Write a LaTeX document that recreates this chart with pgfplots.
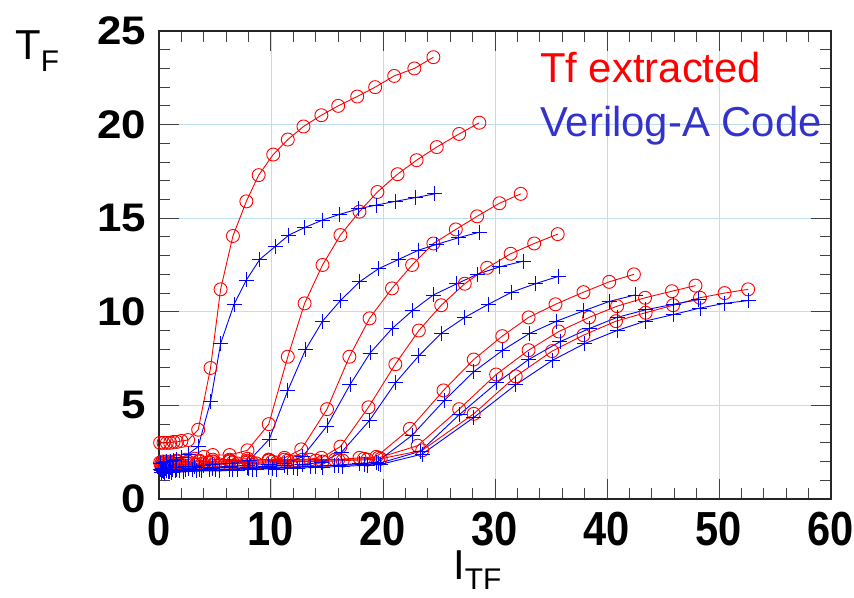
\documentclass[border=0pt]{standalone}
\usepackage{pgfplots}
\pgfplotsset{compat=1.18}
\usepackage{fontspec}
\setmainfont{Liberation Sans}
\definecolor{gridblue}{RGB}{190,222,240}
\definecolor{legblue}{RGB}{51,51,204}
\pgfplotsset{
  redc/.style={draw=red, color=red, line width=0.9bp, mark=o, mark size=6.5bp, mark options={draw=red, fill=none, solid, line width=0.9bp}},
  bluec/.style={draw=blue, color=blue, line width=0.9bp, mark=+, mark size=7.5bp, mark options={draw=blue, solid, line width=0.9bp}},
}
\begin{document}
\begin{tikzpicture}
\path[use as bounding box] (-159bp,-99bp) rectangle (695bp,499bp);
\begin{axis}[
  at={(0,0)}, anchor=south west,
  scale only axis, width=672bp, height=468bp,
  xmin=0, xmax=60, ymin=0, ymax=25,
  xtick={0,10,...,60}, ytick={0,5,...,25},
  minor x tick num=4, minor y tick num=4,
  tick align=inside, major tick length=20bp, minor tick length=11bp,
  tick style={color=black!75, line width=1bp},
  axis line style={line width=1.2bp, black!85},
  grid=major, grid style={color=gridblue, line width=0.8bp},
  xticklabel style={inner sep=0pt, yshift=-13bp, anchor=north, font=\fontsize{48}{48}\selectfont\bfseries},
  yticklabel style={inner sep=0pt, xshift=-13bp, anchor=east, font=\fontsize{40}{40}\selectfont\bfseries},
  xticklabel={\scalebox{0.87}[1]{\pgfmathprintnumber[assume math mode=true]{\tick}}},
  yticklabel={\scalebox{1.1}[1]{\pgfmathprintnumber[assume math mode=true]{\tick}}},
  clip=false,
]
% ---- red: Tf extracted ----
\addplot[redc] coordinates {(0.1,3.0)(0.4,3.0)(0.7,3.0)(1.0,3.0)(1.3,3.05)(1.6,3.05)(2.0,3.1)(2.6,3.15)(3.5,3.7)(4.6,7.0)(5.5,11.2)(6.6,14.05)(7.8,15.9)(8.9,17.3)(10.2,18.4)(11.5,19.2)(12.9,19.9)(14.5,20.5)(16.0,21.0)(17.7,21.5)(19.3,22.0)(21.0,22.6)(22.8,23.0)(24.5,23.6)};
\addplot[redc] coordinates {(0.1,1.95)(0.3,2.0)(0.6,2.0)(1.0,2.0)(1.6,2.05)(2.4,2.1)(3.2,2.15)(4.0,2.25)(4.8,2.35)(6.3,2.35)(7.9,2.6)(9.8,4.0)(11.5,7.6)(13.0,10.45)(14.6,12.5)(16.2,14.1)(17.9,15.35)(19.5,16.4)(21.3,17.35)(23.0,18.1)(24.8,18.8)(26.8,19.5)(28.6,20.1)};
\addplot[redc] coordinates {(0.2,1.9)(0.5,1.95)(0.9,1.95)(1.6,2.0)(2.6,2.0)(3.6,2.05)(4.8,2.1)(6.3,2.1)(7.9,2.15)(9.8,2.1)(11.2,2.2)(12.7,2.65)(15.0,4.8)(17.0,7.6)(18.8,9.65)(20.8,11.25)(22.6,12.5)(24.5,13.65)(26.5,14.4)(28.4,15.1)(30.4,15.8)(32.3,16.3)};
\addplot[redc] coordinates {(0.3,1.85)(0.7,1.9)(1.2,1.9)(2.4,1.95)(3.6,2.0)(4.8,2.0)(6.3,2.05)(7.9,2.05)(9.8,2.1)(11.2,2.1)(12.8,2.1)(14.5,2.2)(16.2,2.8)(18.7,4.9)(21.1,7.2)(23.2,9.0)(25.2,10.35)(27.3,11.5)(29.3,12.35)(31.4,13.1)(33.5,13.65)(35.6,14.15)};
\addplot[redc] coordinates {(0.4,1.8)(0.9,1.85)(1.5,1.85)(3.0,1.9)(4.5,1.95)(6.3,2.0)(8.0,2.0)(9.8,2.05)(11.5,2.05)(13.5,2.1)(15.7,2.1)(17.9,2.2)(19.4,2.25)(22.4,3.75)(25.4,5.8)(28.1,7.45)(30.65,8.7)(33.0,9.7)(35.4,10.4)(37.9,11.05)(40.2,11.6)(42.4,12.0)};
\addplot[redc] coordinates {(0.2,1.75)(0.8,1.8)(1.8,1.85)(3.3,1.85)(5.0,1.9)(6.6,1.95)(8.3,1.95)(10.1,2.0)(12.0,2.0)(14.0,2.05)(16.0,2.1)(18.3,2.15)(19.6,2.2)(23.1,2.85)(26.8,4.8)(30.1,6.65)(33.0,7.95)(35.7,8.95)(38.4,9.7)(40.9,10.3)(43.4,10.75)(45.8,11.1)(47.9,11.4)};
\addplot[redc] coordinates {(0.5,1.7)(1.1,1.75)(2.2,1.8)(3.8,1.85)(5.4,1.85)(7.0,1.9)(8.7,1.9)(10.5,1.95)(12.4,2.0)(14.6,2.0)(16.4,2.05)(18.6,2.1)(19.8,2.15)(23.5,2.6)(28.1,4.55)(31.85,6.55)(35.1,7.9)(37.9,8.75)(40.8,9.5)(43.45,9.95)(45.9,10.35)(48.3,10.75)(50.5,11.0)(52.6,11.2)};
% ---- blue: Verilog-A ----
\addplot[bluec] coordinates {(0.1,1.9)(0.4,1.95)(0.7,2.0)(1.0,2.0)(1.3,2.05)(1.6,2.1)(2.0,2.2)(2.6,2.4)(3.5,2.8)(4.6,5.2)(5.5,8.3)(6.7,10.4)(7.8,11.7)(9.0,12.8)(10.4,13.5)(11.6,14.1)(13.0,14.5)(14.6,14.9)(16.1,15.2)(17.8,15.5)(19.4,15.7)(21.1,15.9)(22.9,16.1)(24.6,16.3)};
\addplot[bluec] coordinates {(0.1,1.6)(0.3,1.65)(0.6,1.65)(1.0,1.7)(1.6,1.7)(2.4,1.75)(3.2,1.75)(4.0,1.8)(4.8,1.85)(6.3,1.9)(8.05,2.05)(9.85,3.2)(11.5,5.8)(13.1,8.0)(14.6,9.5)(16.2,10.6)(17.9,11.6)(19.6,12.3)(21.4,12.8)(23.2,13.3)(24.8,13.6)(26.7,13.95)(28.6,14.25)};
\addplot[bluec] coordinates {(0.2,1.55)(0.5,1.55)(0.9,1.6)(1.6,1.6)(2.6,1.65)(3.6,1.7)(4.8,1.7)(6.3,1.75)(7.9,1.8)(9.8,1.85)(11.2,1.9)(12.8,2.25)(15.0,3.9)(17.05,6.1)(18.85,7.8)(20.8,9.1)(22.6,10.05)(24.5,10.9)(26.6,11.5)(28.4,12.0)(30.4,12.4)(32.5,12.7)};
\addplot[bluec] coordinates {(0.3,1.5)(0.7,1.5)(1.2,1.55)(2.4,1.6)(3.6,1.6)(4.8,1.65)(6.3,1.7)(7.9,1.7)(9.8,1.75)(11.2,1.8)(12.8,1.85)(14.5,1.95)(16.3,2.5)(18.8,4.2)(21.1,6.2)(23.2,7.65)(25.2,8.85)(27.3,9.7)(29.4,10.4)(31.5,11.05)(33.6,11.5)(35.7,11.9)};
\addplot[bluec] coordinates {(0.4,1.45)(0.9,1.45)(1.5,1.5)(3.0,1.55)(4.5,1.6)(6.3,1.6)(8.0,1.65)(9.8,1.7)(11.5,1.7)(13.5,1.75)(15.7,1.8)(17.9,1.9)(19.4,1.95)(22.6,3.4)(25.45,5.25)(28.1,6.8)(30.7,7.95)(33.1,8.85)(35.5,9.5)(37.9,10.05)(40.2,10.55)(42.5,10.9)};
\addplot[bluec] coordinates {(0.2,1.4)(0.8,1.45)(1.8,1.5)(3.3,1.5)(5.0,1.55)(6.6,1.6)(8.3,1.6)(10.1,1.65)(12.0,1.7)(14.0,1.75)(16.0,1.8)(18.3,1.85)(19.6,1.9)(23.35,2.55)(26.8,4.5)(30.15,6.2)(33.0,7.45)(35.8,8.4)(38.4,9.1)(40.9,9.7)(43.4,10.1)(45.9,10.4)(48.2,10.65)};
\addplot[bluec] coordinates {(0.5,1.35)(1.1,1.4)(2.2,1.45)(3.8,1.5)(5.4,1.5)(7.0,1.55)(8.7,1.6)(10.5,1.6)(12.4,1.65)(14.6,1.7)(16.4,1.75)(18.6,1.8)(19.8,1.85)(23.5,2.4)(28.1,4.35)(31.85,6.1)(35.1,7.4)(38.0,8.3)(40.9,9.0)(43.4,9.5)(45.9,9.85)(48.3,10.2)(50.5,10.45)(52.6,10.6)};
\end{axis}
\node[anchor=base west, inner sep=0pt, text=red] at (381bp,416bp) {\fontsize{42}{42}\selectfont Tf extracted};
\node[anchor=base west, inner sep=0pt, text=legblue] at (381bp,362bp) {\fontsize{42}{42}\selectfont Verilog-A Code};
\node[anchor=base west, inner sep=0pt] at (-144bp,439bp) {\fontsize{42}{42}\selectfont T\raisebox{-12bp}{\fontsize{30}{30}\selectfont F}};
\node[anchor=base west, inner sep=0pt] at (294bp,-80bp) {\fontsize{42}{42}\selectfont I\raisebox{-10bp}{\fontsize{30}{30}\selectfont TF}};
\end{tikzpicture}
\end{document}
